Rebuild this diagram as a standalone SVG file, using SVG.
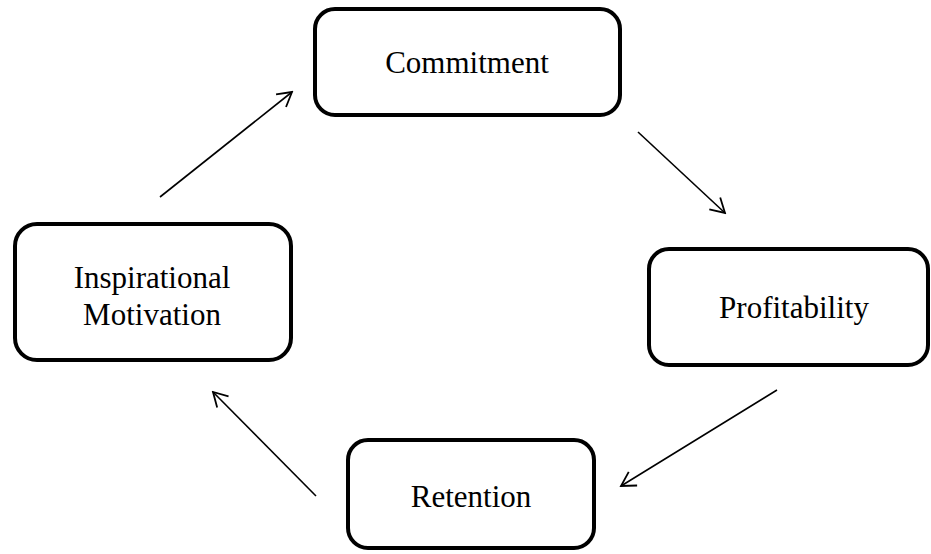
<svg xmlns="http://www.w3.org/2000/svg" width="931" height="554" viewBox="0 0 931 554">
<defs>
<style>
.box{fill:#fff;stroke:#000;stroke-width:4}
.lbl{font-family:"Liberation Serif","Times New Roman",serif;font-size:31px;fill:#000;text-anchor:middle}
.conn{stroke:#000;stroke-width:1.6;fill:none;marker-end:url(#arr)}
</style>
<marker id="arr" viewBox="0 0 20 20" refX="18" refY="10" markerWidth="20" markerHeight="20" markerUnits="userSpaceOnUse" orient="auto">
<path d="M4,2 L18,10 L4,18" fill="none" stroke="#000" stroke-width="1.8"/>
</marker>
</defs>
<rect width="931" height="554" fill="#fff"/>
<g id="commitment">
<rect class="box" x="315" y="9" width="305" height="106" rx="20"/>
<text class="lbl" x="467" y="73">Commitment</text>
</g>
<g id="profitability">
<rect class="box" x="649" y="249" width="279" height="116" rx="20"/>
<text class="lbl" x="794" y="318">Profitability</text>
</g>
<g id="retention">
<rect class="box" x="348" y="440" width="246" height="108" rx="20"/>
<text class="lbl" x="471" y="507">Retention</text>
</g>
<g id="inspirational">
<rect class="box" x="15" y="224" width="276" height="136" rx="22"/>
<text class="lbl" x="152" y="288">Inspirational</text>
<text class="lbl" x="152" y="325">Motivation</text>
</g>
<g id="connectors">
<line class="conn" x1="160" y1="197" x2="292" y2="92"/>
<line class="conn" x1="638" y1="132" x2="725" y2="213"/>
<line class="conn" x1="777" y1="390" x2="621" y2="486"/>
<line class="conn" x1="316" y1="496" x2="213" y2="392"/>
</g>
</svg>
